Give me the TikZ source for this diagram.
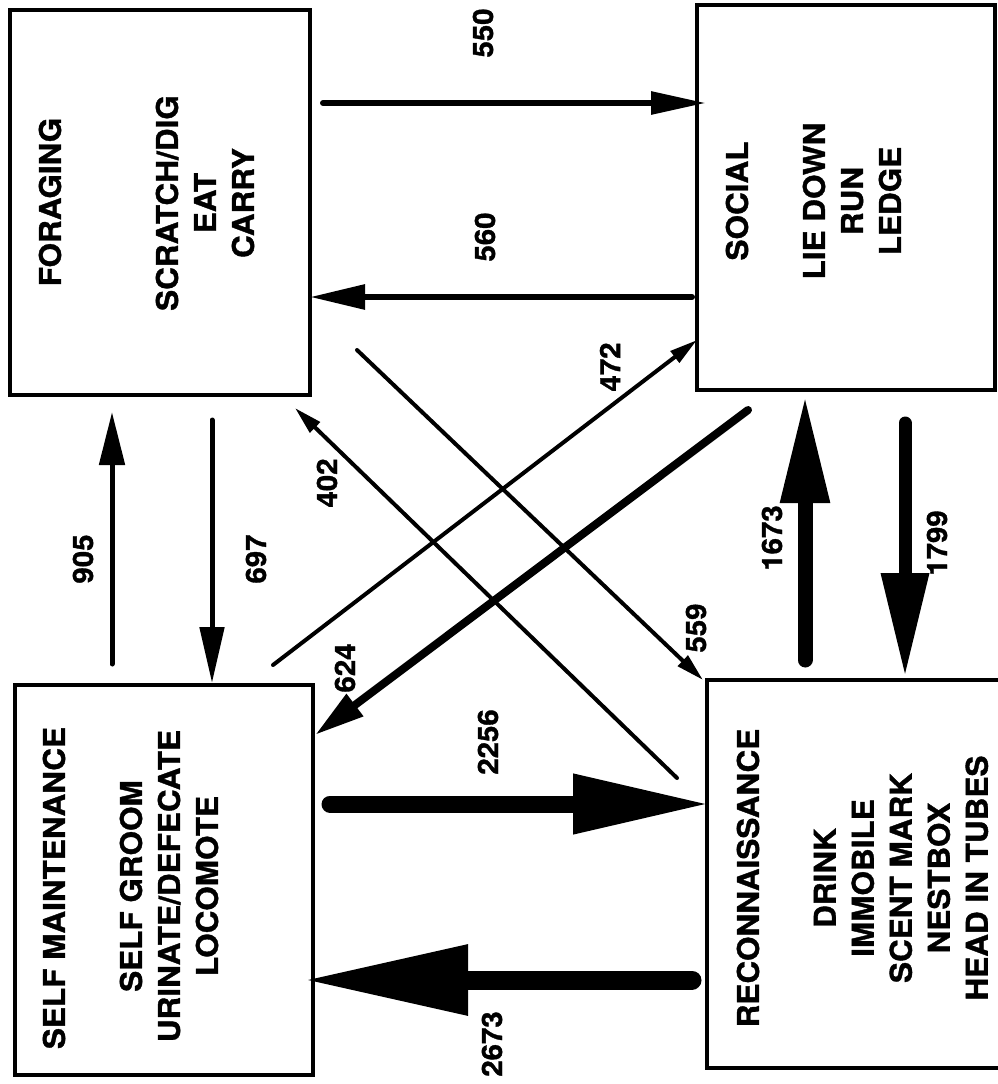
\documentclass[tikz,border=0pt]{standalone}
\usepackage{fontspec}
\newfontfamily\heros[FakeStretch=1.05, BoldFeatures={FakeBold=1.2}]{TeX Gyre Heros}
\usetikzlibrary{arrows.meta}

\tikzset{
  statebox/.style={draw, line width=3.5pt, inner sep=0pt, outer sep=0pt},
  boxtitle/.style={rotate=90, font=\heros\bfseries\fontsize{30}{38}\selectfont},
  boxacts/.style={rotate=90, align=center, font=\heros\bfseries\fontsize{30}{38}\selectfont},
  freq/.style={rotate=90, font=\heros\bfseries\fontsize{28}{30}\selectfont},
  flow/.style n args={3}{line width=#1, line cap=round, -{Triangle[length=#2, width=#3]}},
}

\begin{document}
\begin{tikzpicture}[x=1pt, y=-1pt]
\useasboundingbox (0,0) rectangle (998,1084);

% the four behaviour classes
\node[statebox, minimum width=300pt, minimum height=385pt] (forage) at (160,202.5) {};
\node[statebox, minimum width=298pt, minimum height=385pt] (social) at (846,197.5) {};
\node[statebox, minimum width=298pt, minimum height=390pt] (selfm) at (164,880) {};
\node[statebox, minimum width=298pt, minimum height=388pt] (recon) at (856,874) {};

\node[boxtitle] (forageT) at (50,202) {FORAGING};
\node[boxacts] (forageA) at (205,203) {SCRATCH/DIG\\EAT\\CARRY};
\node[boxtitle] (socialT) at (737,201) {SOCIAL};
\node[boxacts] (socialA) at (852,201) {LIE DOWN\\RUN\\LEDGE};
\node[boxtitle] (selfmT) at (54,888) {SELF MAINTENANCE};
\node[boxacts] (selfmA) at (169,886) {SELF GROOM\\URINATE/DEFECATE\\LOCOMOTE};
\node[boxtitle] (reconT) at (748,878) {RECONNAISSANCE};
\node[boxacts] (reconA) at (901,878) {DRINK\\IMMOBILE\\SCENT MARK\\NESTBOX\\HEAD IN TUBES};

% transitions, line width and head size grow with the count
\draw[flow={6pt}{55pt}{22pt}, shorten <=13pt, shorten >=-9pt] (forage.east |- 0,103) -- (social.west |- 0,103);
\draw[flow={6pt}{55pt}{24pt}, shorten <=5pt] (social.west |- 0,297) -- (forage.east |- 0,297);
\draw[flow={5pt}{53pt}{25pt}, shorten <=21pt, shorten >=17pt] (selfm.north -| 112,0) -- (forage.south -| 112,0);
\draw[flow={5pt}{56pt}{24pt}, shorten <=25pt, shorten >=2pt] (forage.south -| 212,0) -- (selfm.north -| 212,0);
\draw[flow={15pt}{108pt}{46pt}, shorten <=20pt, shorten >=5pt] (recon.north -| 805,0) -- (social.south -| 805,0);
\draw[flow={13pt}{104pt}{45pt}, shorten <=33pt, shorten >=3pt] (social.south -| 905,0) -- (recon.north -| 905,0);
\draw[flow={17pt}{137pt}{56pt}, shorten <=17pt, shorten >=-3pt] (selfm.east |- 0,804) -- (recon.west |- 0,804);
\draw[flow={19pt}{165pt}{66pt}, shorten <=15pt, shorten >=-10pt] (recon.west |- 0,980) -- (selfm.east |- 0,980);
\draw[flow={4pt}{28pt}{14pt}] ([shift={(-30,98)}]recon.north west) -- ([shift={(-15,13)}]forage.south east);
\draw[flow={4pt}{28pt}{14pt}] ([shift={(47,-45)}]forage.south east) -- ([shift={(-4,0)}]recon.north west);
\draw[flow={4pt}{28pt}{14pt}] ([shift={(-40,-20)}]selfm.north east) -- ([shift={(0,-50)}]social.south west);
\draw[flow={8pt}{50pt}{26pt}] ([shift={(51,20)}]social.south west) -- ([shift={(2,50)}]selfm.north east);

% counts
\node[freq] (n550) at (483,33) {550};
\node[freq] (n560) at (485,237) {560};
\node[freq] (n905) at (83,559) {905};
\node[freq] (n697) at (256,559) {697};
\node[freq] (n402) at (327,483) {402};
\node[freq] (n472) at (610,367) {472};
\node[freq] (n559) at (696,628) {559};
\node[freq] (n624) at (345,668) {624};
\node[freq] (n2256) at (488,742) {2256};
\node[freq] (n2673) at (492,1044) {2673};
\node[freq] (n1673) at (772,538) {1673};
\node[freq] (n1799) at (937,543) {1799};
\end{tikzpicture}
\end{document}
